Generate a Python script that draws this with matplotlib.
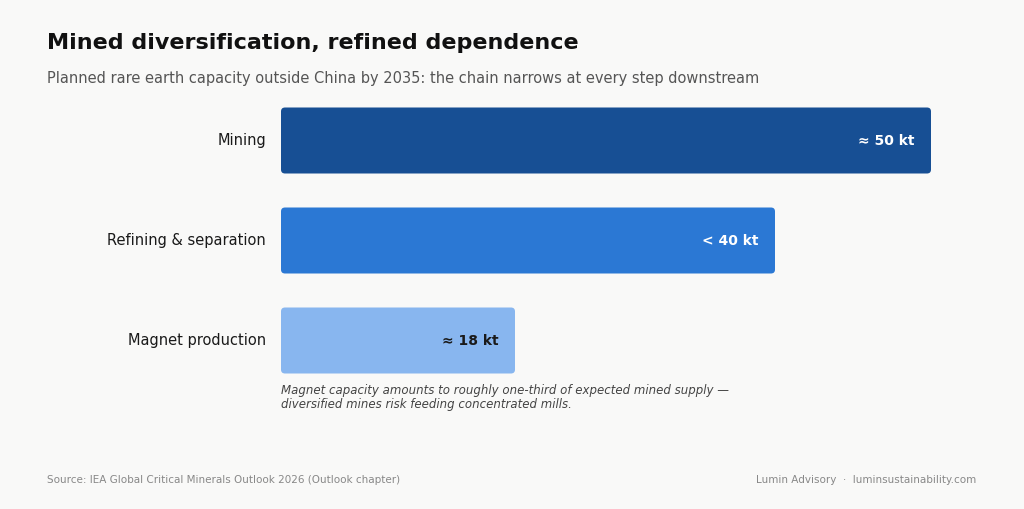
import matplotlib
matplotlib.use("Agg")
import matplotlib.pyplot as plt
from matplotlib.patches import FancyBboxPatch

categories = ["Mining", "Refining & separation", "Magnet production"]
values = [50, 38, 18]
value_labels = ["≈ 50 kt", "< 40 kt", "≈ 18 kt"]
colors = ["#174f94", "#2b78d4", "#88b6ef"]
text_colors = ["white", "white", "#1a1a1a"]

W, H = 1024, 510
bg = "#f9f9f8"
fig = plt.figure(figsize=(W/100, H/100), dpi=100, facecolor=bg)
ax = fig.add_axes([281/W, (H-375)/H, 650/W, 267/H])
ax.set_facecolor(bg)
ax.set_xlim(0, 50)
ax.set_ylim(2.335, -0.335)
ax.axis("off")

px_x = 50/650
for i, (v, c) in enumerate(zip(values, colors)):
    p = FancyBboxPatch((0, i-0.33), v, 0.66,
                       boxstyle="round,pad=0,rounding_size=%f" % (4*px_x),
                       mutation_aspect=(1/100)/px_x, fc=c, ec="none")
    ax.add_patch(p)
    ax.text(v - 16*px_x, i, value_labels[i], ha="right", va="center",
            fontsize=10, fontweight="bold", color=text_colors[i])
    fig.text(266/W, 1-(141+100*i)/H, categories[i], ha="right", va="center",
             fontsize=10.5, color="#1a1a1a")

fig.text(47/W, 1-43/H, "Mined diversification, refined dependence", fontsize=16,
         fontweight="bold", va="center", color="#111111")
fig.text(47/W, 1-78/H, "Planned rare earth capacity outside China by 2035: the chain narrows at every step downstream",
         fontsize=10.5, va="center", color="#555555")
fig.text(281/W, 1-398/H, "Magnet capacity amounts to roughly one-third of expected mined supply —\ndiversified mines risk feeding concentrated mills.",
         fontsize=8.5, style="italic", va="center", color="#444444", linespacing=1.1)
fig.text(47/W, 1-480/H, "Source: IEA Global Critical Minerals Outlook 2026 (Outlook chapter)",
         fontsize=7.5, va="center", color="#888888")
fig.text(976/W, 1-480/H, "Lumin Advisory  ·  luminsustainability.com",
         fontsize=7.5, va="center", ha="right", color="#888888")

fig.savefig("out.png", dpi=100, facecolor=bg)
